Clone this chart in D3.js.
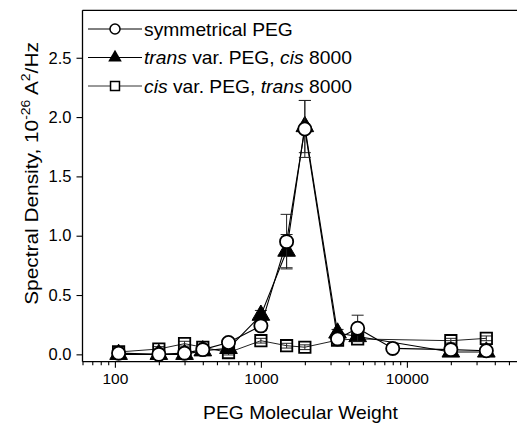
<!DOCTYPE html>
<html><head><meta charset="utf-8">
<script src="https://cdn.jsdelivr.net/npm/d3@7"></script>
<style>
html,body{margin:0;padding:0;background:#fff;}
svg{display:block;font-family:"Liberation Sans",Arial,sans-serif;}
</style></head>
<body>
<svg id="chart" width="517" height="426"></svg>
<script>
// ---- data ----
const mwSym   = [106, 200, 300, 400, 600, 1000, 1500, 2000, 3350, 4600, 8000, 20000, 35000];
const valSym  = [0.01, 0.00, 0.01, 0.04, 0.10, 0.24, 0.95, 1.90, 0.13, 0.22, 0.05, 0.04, 0.03];
const errSym  = [0.02, 0.02, 0.02, 0.02, 0.03, 0.04, 0.23, 0.24, 0.03, 0.11, 0.01, 0.02, 0.02];

const mwTrans  = [106, 200, 300, 400, 600, 1000, 1500, 2000, 3350, 4600, 20000, 35000];
const valTrans = [0.00, 0.00, 0.00, 0.03, 0.05, 0.33, 0.87, 1.92, 0.18, 0.15, 0.02, 0.02];
const errTrans = [0.01, 0.01, 0.01, 0.01, 0.02, 0.04, 0.14, 0.22, 0.03, 0.03, 0.01, 0.01];

const mwCis   = [106, 200, 300, 400, 600, 1000, 1500, 2000, 3350, 4600, 20000, 35000];
const valCis  = [0.02, 0.045, 0.09, 0.06, 0.015, 0.115, 0.073, 0.06, 0.12, 0.13, 0.115, 0.135];
const errCis  = [0.02, 0.02, 0.02, 0.02, 0.02, 0.02, 0.02, 0.02, 0.02, 0.02, 0.02, 0.02];

const seriesNames = ["symmetrical PEG", "trans var. PEG, cis 8000", "cis var. PEG, trans 8000"];
const yTicks = [0.0, 0.5, 1.0, 1.5, 2.0, 2.5];
const xMajorTicks = [100, 1000, 10000];
const xTitle = "PEG Molecular Weight";

// ---- layout ----
const svg = d3.select("#chart");
const L = 82.5, T = 10.3, B = 361.7, R = 520.5;
const x = d3.scaleLog().domain([60, 60000]).range([L, R]);
const y = d3.scaleLinear().domain([-0.062, 2.9]).range([B, T]);

// stretch a text element horizontally (in its own frame) to a target width
function fitWidth(sel, target, base) {
  const w = sel.node().getComputedTextLength();
  const sx = target / w;
  sel.attr("transform", base + ` scale(${sx},1)`);
}

// frame
svg.append("line").attr("x1", L).attr("x2", 530).attr("y1", T).attr("y2", T)
  .attr("stroke", "#000").attr("stroke-width", 1.3);

// x axis
const minor = [];
[10, 100, 1000, 10000].forEach(d => { for (let k = 1; k <= 9; k++) { const v = d * k; if (v >= 60 && v <= 60000) minor.push(v); } });
const xMinorTicks = minor.filter(v => !xMajorTicks.includes(v));
const gx = svg.append("g").attr("transform", `translate(0,${B})`);
gx.call(d3.axisBottom(x).tickValues(xMajorTicks).tickSize(6).tickPadding(5).tickFormat(d3.format("d")));
gx.append("g").call(d3.axisBottom(x).tickValues(xMinorTicks).tickSize(3.5).tickFormat(""));
gx.selectAll(".domain").remove();
gx.append("line").attr("x1", L).attr("x2", 530).attr("stroke", "#000").attr("stroke-width", 1.3);
gx.selectAll(".tick line").attr("stroke", "#000").attr("stroke-width", 1.1);
gx.selectAll(".tick text").attr("font-size", 15.5).attr("fill", "#000").attr("font-family", "Liberation Sans, Arial, sans-serif");

// y axis
const gy = svg.append("g").attr("transform", `translate(${L},0)`);
gy.call(d3.axisLeft(y).tickValues(yTicks).tickSize(6).tickPadding(5).tickFormat(d3.format(".1f")));
gy.selectAll(".domain").remove();
gy.append("line").attr("y1", T).attr("y2", B).attr("stroke", "#000").attr("stroke-width", 1.3);
gy.selectAll(".tick line").attr("stroke", "#000").attr("stroke-width", 1.1);
gy.selectAll(".tick text").attr("font-size", 16.5).attr("fill", "#000").attr("font-family", "Liberation Sans, Arial, sans-serif");

// axis titles
const xt = svg.append("text").attr("text-anchor", "middle").attr("font-size", 18).text(xTitle);
fitWidth(xt, 195, "translate(300.5,419)");

const yt = svg.append("text").attr("text-anchor", "middle").attr("font-size", 18);
yt.append("tspan").text("Spectral Density, 10");
yt.append("tspan").attr("font-size", 12).attr("dy", -8).text("-26");
yt.append("tspan").attr("dy", 8).text(" A");
yt.append("tspan").attr("font-size", 12).attr("dy", -8).text("2");
yt.append("tspan").attr("dy", 8).text("/Hz");
fitWidth(yt, 263, "translate(37.5,173.5) rotate(-90)");

// ---- series ----
function mk(mw, val, err) { return mw.map((m, i) => ({ m, v: val[i], e: err[i] })); }
const dSym = mk(mwSym, valSym, errSym);
const dTrans = mk(mwTrans, valTrans, errTrans);
const dCis = mk(mwCis, valCis, errCis);

const line = d3.line().x(d => x(d.m)).y(d => y(d.v));

function errorBars(g, data) {
  const eb = g.append("g").attr("stroke", "#222").attr("stroke-width", 1);
  data.forEach(d => {
    eb.append("line").attr("x1", x(d.m)).attr("x2", x(d.m)).attr("y1", y(d.v - d.e)).attr("y2", y(d.v + d.e));
    [d.v - d.e, d.v + d.e].forEach(v => {
      eb.append("line").attr("x1", x(d.m) - 6).attr("x2", x(d.m) + 6).attr("y1", y(v)).attr("y2", y(v));
    });
  });
}

const triSym = d3.symbol().type(d3.symbolTriangle);
const sqSym = d3.symbol().type(d3.symbolSquare);

// squares (cis var.)
const gC = svg.append("g");
gC.append("path").datum(dCis).attr("d", line).attr("fill", "none").attr("stroke", "#222").attr("stroke-width", 1);
errorBars(gC, dCis);
gC.selectAll("path.m").data(dCis).join("path").attr("class", "m")
  .attr("transform", d => `translate(${x(d.m)},${y(d.v)})`)
  .attr("d", sqSym.size(130)()).attr("fill", "none").attr("stroke", "#000").attr("stroke-width", 1.8);

// triangles (trans var.)
const gT = svg.append("g");
gT.append("path").datum(dTrans).attr("d", line).attr("fill", "none").attr("stroke", "#000").attr("stroke-width", 1.1);
errorBars(gT, dTrans);
gT.selectAll("path.m").data(dTrans).join("path").attr("class", "m")
  .attr("transform", d => `translate(${x(d.m)},${y(d.v)})`)
  .attr("d", triSym.size(135)()).attr("fill", "#000").attr("stroke", "#000").attr("stroke-width", 1);

// circles (symmetrical)
const gS = svg.append("g");
gS.append("path").datum(dSym).attr("d", line).attr("fill", "none").attr("stroke", "#000").attr("stroke-width", 1.1);
errorBars(gS, dSym);
gS.selectAll("circle").data(dSym).join("circle")
  .attr("cx", d => x(d.m)).attr("cy", d => y(d.v)).attr("r", 6.6)
  .attr("fill", "#fff").attr("stroke", "#000").attr("stroke-width", 1.8);

// ---- legend ----
const legY = [29, 57.5, 86];
const legW = [149, 208, 208];
const lg = svg.append("g");
legY.forEach((ly, i) => {
  lg.append("line").attr("x1", 88).attr("x2", 142).attr("y1", ly).attr("y2", ly)
    .attr("stroke", i === 2 ? "#333" : "#000").attr("stroke-width", 1);
  if (i === 0) lg.append("circle").attr("cx", 115).attr("cy", ly).attr("r", 5).attr("fill", "#fff").attr("stroke", "#000").attr("stroke-width", 1.5);
  if (i === 1) lg.append("path").attr("transform", `translate(115,${ly})`).attr("d", triSym.size(80)()).attr("fill", "#000");
  if (i === 2) lg.append("path").attr("transform", `translate(115,${ly})`).attr("d", sqSym.size(80)()).attr("fill", "#fff").attr("stroke", "#000").attr("stroke-width", 1.5);
});
const lt = (i) => lg.append("text").attr("font-size", 18);
const t0 = lt(0).text(seriesNames[0]);
const t1 = lt(1);
t1.append("tspan").attr("font-style", "italic").text("trans");
t1.append("tspan").text(" var. PEG, ");
t1.append("tspan").attr("font-style", "italic").text("cis");
t1.append("tspan").text(" 8000");
const t2 = lt(2);
t2.append("tspan").attr("font-style", "italic").text("cis");
t2.append("tspan").text(" var. PEG, ");
t2.append("tspan").attr("font-style", "italic").text("trans");
t2.append("tspan").text(" 8000");
[t0, t1, t2].forEach((t, i) => fitWidth(t, legW[i], `translate(144,${legY[i] + 6.5})`));
</script>
</body></html>
